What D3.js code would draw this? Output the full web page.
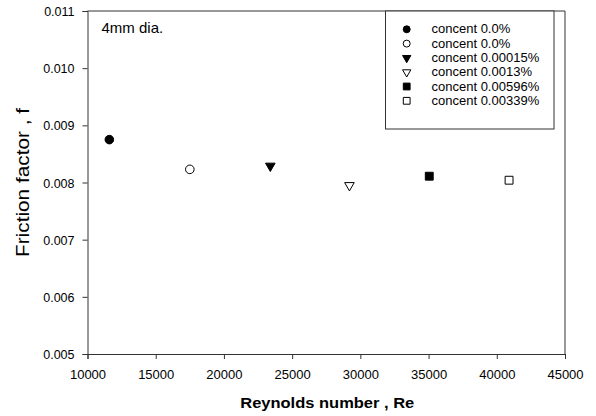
<!DOCTYPE html>
<html>
<head>
<meta charset="utf-8">
<script src="https://cdn.jsdelivr.net/npm/d3@7"></script>
<style>
  body { margin: 0; background: #fff; }
  text { font-family: "Liberation Sans", Arial, sans-serif; fill: #000; }
</style>
</head>
<body>
<div id="chart"></div>
<script>
// data
var series = ["concent 0.0%", "concent 0.0%", "concent 0.00015%", "concent 0.0013%", "concent 0.00596%", "concent 0.00339%"];
var reynolds = [11600, 17500, 23400, 29200, 35050, 40900];
var friction = [0.00875, 0.00823, 0.00829, 0.00795, 0.00811, 0.00804];
var shapes = ["circle", "circle", "triangle", "triangle", "square", "square"];
var filled = [true, false, true, false, true, false];
var xTicks = [10000, 15000, 20000, 25000, 30000, 35000, 40000, 45000];
var yTicks = [0.005, 0.006, 0.007, 0.008, 0.009, 0.010, 0.011];

var width = 596, height = 416;
var margin = {left: 87.5, top: 11, right: 31, bottom: 62};

var svg = d3.select("#chart").append("svg").attr("width", width).attr("height", height);

var x = d3.scaleLinear().domain([10000, 45000]).range([margin.left, width - margin.right]);
var y = d3.scaleLinear().domain([0.005, 0.011]).range([height - margin.bottom, margin.top]);

var axisColor = "#333";

// frame top and right
svg.append("path")
    .attr("d", "M" + x(10000) + "," + y(0.011) + "H" + x(45000) + "V" + y(0.005))
    .attr("fill", "none").attr("stroke", axisColor).attr("stroke-width", 1);

var xAxis = svg.append("g")
    .attr("transform", "translate(0," + y(0.005) + ")")
    .call(d3.axisBottom(x).tickValues(xTicks).tickFormat(d3.format("d")).tickSize(5).tickPadding(10.5));

var yAxis = svg.append("g")
    .attr("transform", "translate(" + x(10000) + ",0)")
    .call(d3.axisLeft(y).tickValues(yTicks).tickFormat(d3.format(".3f")).tickSize(5).tickPadding(8));

[xAxis, yAxis].forEach(function(a) {
    a.select(".domain").attr("stroke", axisColor);
    a.selectAll(".tick line").attr("stroke", axisColor);
    a.selectAll("text").style("font-family", "Liberation Sans, Arial, sans-serif").attr("fill", "#000");
});
xAxis.selectAll("text").style("font-size", "13px");
yAxis.selectAll("text").style("font-size", "12.5px").attr("dy", "0.36em");

// axis titles
svg.append("text")
    .attr("x", (x(10000) + x(45000)) / 2 + 1)
    .attr("y", 408)
    .attr("text-anchor", "middle")
    .style("font-size", "15px").style("font-weight", "bold")
    .attr("textLength", 174).attr("lengthAdjust", "spacingAndGlyphs")
    .text("Reynolds number , Re");

svg.append("text")
    .attr("transform", "translate(29," + ((y(0.005) + y(0.011)) / 2) + ") rotate(-90)")
    .attr("text-anchor", "middle")
    .style("font-size", "18px")
    .attr("textLength", 149).attr("lengthAdjust", "spacingAndGlyphs")
    .text("Friction factor , f");

svg.append("text")
    .attr("x", 101.5).attr("y", 33.3)
    .style("font-size", "15px")
    .text("4mm dia.");

function symbolPath(shape, big) {
    if (shape === "circle") return d3.symbol(d3.symbolCircle, big ? 58 : 38)();
    if (shape === "square") return d3.symbol(d3.symbolSquare, big ? 62 : 46)();
    return d3.symbol(d3.symbolTriangle, big ? 40 : 30)();
}

var pts = reynolds.map(function(r, i) {
    return {re: r, f: friction[i], shape: shapes[i], filled: filled[i], name: series[i]};
});

svg.append("g").selectAll("path").data(pts).enter().append("path")
    .attr("d", function(d) { return symbolPath(d.shape, true); })
    .attr("transform", function(d) {
        return "translate(" + x(d.re) + "," + y(d.f) + ")" + (d.shape === "triangle" ? " rotate(180)" : "");
    })
    .attr("fill", function(d) { return d.filled ? "#000" : "#fff"; })
    .attr("stroke", "#000").attr("stroke-width", 1);

// legend
var legend = svg.append("g");
legend.append("rect")
    .attr("x", 385.5).attr("y", 11).attr("width", 168.5).attr("height", 118)
    .attr("fill", "#fff").attr("stroke", axisColor);

var rows = legend.selectAll("g.row").data(pts).enter().append("g")
    .attr("transform", function(d, i) { return "translate(0," + (29.3 + i * 14.3) + ")"; });

rows.append("path")
    .attr("d", function(d) { return symbolPath(d.shape, false); })
    .attr("transform", function(d) { return "translate(406.7,0)" + (d.shape === "triangle" ? " rotate(180)" : ""); })
    .attr("fill", function(d) { return d.filled ? "#000" : "#fff"; })
    .attr("stroke", "#000").attr("stroke-width", 1);

rows.append("text")
    .attr("x", 431.5).attr("y", 4)
    .style("font-size", "13px")
    .text(function(d) { return d.name; });
</script>
</body>
</html>
